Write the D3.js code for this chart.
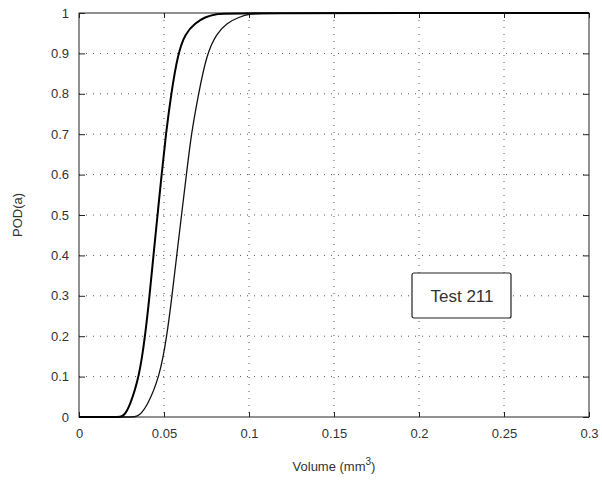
<!DOCTYPE html>
<html>
<head>
<meta charset="utf-8">
<script src="https://cdn.jsdelivr.net/npm/d3@7"></script>
<style>
  body { margin: 0; background: #fff; }
  text { font-family: "Liberation Sans", Arial, sans-serif; fill: #333; }
</style>
</head>
<body>
<div id="chart"></div>
<script>
// POD curves: volume (mm^3) and POD(a)
var volA = [0, 0.02, 0.0245, 0.0265, 0.0297, 0.0355, 0.0389, 0.0415, 0.0438, 0.0462, 0.0486, 0.0511, 0.0542, 0.0582, 0.0625, 0.0684, 0.074, 0.081, 0.088, 0.3];
var podA = [0, 0, 0, 0.004, 0.025, 0.1, 0.2, 0.3, 0.4, 0.5, 0.6, 0.7, 0.8, 0.9, 0.95, 0.975, 0.99, 0.998, 1, 1];
var volB = [0, 0.028, 0.033, 0.0355, 0.0399, 0.0475, 0.0517, 0.0547, 0.0575, 0.0603, 0.0632, 0.066, 0.0703, 0.0752, 0.0811, 0.087, 0.094, 0.101, 0.108, 0.3];
var podB = [0, 0, 0, 0.004, 0.025, 0.1, 0.2, 0.3, 0.4, 0.5, 0.6, 0.7, 0.8, 0.9, 0.95, 0.975, 0.99, 0.998, 1, 1];

var xTicks = [0, 0.05, 0.1, 0.15, 0.2, 0.25, 0.3];
var xTickLabels = ["0", "0.05", "0.1", "0.15", "0.2", "0.25", "0.3"];
var yTicks = [0, 0.1, 0.2, 0.3, 0.4, 0.5, 0.6, 0.7, 0.8, 0.9, 1];
var yTickLabels = ["0", "0.1", "0.2", "0.3", "0.4", "0.5", "0.6", "0.7", "0.8", "0.9", "1"];
var legendText = "Test 211";

var margin = {top: 13, right: 13, bottom: 65, left: 79},
    width = 602 - margin.left - margin.right,
    height = 482 - margin.top - margin.bottom;

var svg = d3.select("#chart").append("svg")
    .attr("width", 602)
    .attr("height", 482);

var g = svg.append("g")
    .attr("transform", "translate(" + margin.left + "," + margin.top + ")");

var x = d3.scaleLinear().domain([0, 0.3]).range([0, width]);
var y = d3.scaleLinear().domain([0, 1]).range([height, 0]);

// dotted grid
g.append("g").selectAll("line.gx")
    .data(xTicks.slice(1, -1))
    .enter().append("line")
    .attr("x1", function(d) { return x(d); })
    .attr("x2", function(d) { return x(d); })
    .attr("y1", 0).attr("y2", height)
    .style("stroke", "#555").style("stroke-width", 1)
    .style("stroke-dasharray", "1,6");

g.append("g").selectAll("line.gy")
    .data(yTicks.slice(1, -1))
    .enter().append("line")
    .attr("y1", function(d) { return y(d); })
    .attr("y2", function(d) { return y(d); })
    .attr("x1", 0).attr("x2", width)
    .style("stroke", "#555").style("stroke-width", 1)
    .style("stroke-dasharray", "1,6");

// axes, ticks inward
var xAxis = d3.axisBottom(x).tickValues(xTicks)
    .tickFormat(function(d, i) { return xTickLabels[i]; })
    .tickSizeInner(-5).tickSizeOuter(0).tickPadding(12);
var yAxis = d3.axisLeft(y).tickValues(yTicks)
    .tickFormat(function(d, i) { return yTickLabels[i]; })
    .tickSizeInner(-6).tickSizeOuter(0).tickPadding(10);

var gx = g.append("g").attr("transform", "translate(0," + height + ")").call(xAxis);
var gy = g.append("g").call(yAxis);
[gx, gy].forEach(function(a) {
    a.select(".domain").remove();
    a.selectAll("line").style("stroke", "#222");
    a.selectAll("text").style("font-size", "13px").style("fill", "#333")
        .style("font-family", "'Liberation Sans', Arial, sans-serif");
});

// top and right ticks
g.append("g").attr("transform", "translate(" + width + ",0)")
    .call(d3.axisRight(y).tickValues(yTicks).tickSizeInner(-6).tickSizeOuter(0).tickFormat(""))
    .call(function(a) { a.select(".domain").remove(); a.selectAll("line").style("stroke", "#222"); });
g.append("g")
    .call(d3.axisTop(x).tickValues(xTicks).tickSizeInner(-5).tickSizeOuter(0).tickFormat(""))
    .call(function(a) { a.select(".domain").remove(); a.selectAll("line").style("stroke", "#222"); });

// frame
g.append("rect")
    .attr("width", width).attr("height", height)
    .style("fill", "none").style("stroke", "#222").style("stroke-width", 1);

// curves
var line = d3.line()
    .x(function(d) { return x(d[0]); })
    .y(function(d) { return y(d[1]); })
    .curve(d3.curveBasis);

g.append("path")
    .datum(d3.zip(volB, podB))
    .attr("d", line)
    .style("fill", "none").style("stroke", "#111").style("stroke-width", 1.3);

g.append("path")
    .datum(d3.zip(volA, podA))
    .attr("d", line)
    .style("fill", "none").style("stroke", "#000").style("stroke-width", 2);

// legend box
var lg = g.append("g").attr("transform", "translate(" + (412 - margin.left) + "," + (273 - margin.top) + ")");
lg.append("rect")
    .attr("width", 99).attr("height", 45).attr("rx", 2)
    .style("fill", "#fff").style("stroke", "#222").style("stroke-width", 1.2);
lg.append("text")
    .attr("x", 50).attr("y", 29)
    .attr("text-anchor", "middle")
    .style("font-size", "17px")
    .text(legendText);

// axis labels
var xl = svg.append("text")
    .attr("x", margin.left + width / 2)
    .attr("y", 471)
    .attr("text-anchor", "middle")
    .style("font-size", "13px");
xl.append("tspan").text("Volume (mm");
xl.append("tspan").attr("dy", -6).style("font-size", "10px").text("3");
xl.append("tspan").attr("dy", 6).text(")");

svg.append("text")
    .attr("transform", "translate(22," + (margin.top + height / 2) + ") rotate(-90)")
    .attr("text-anchor", "middle")
    .style("font-size", "13px")
    .text("POD(a)");
</script>
</body>
</html>
